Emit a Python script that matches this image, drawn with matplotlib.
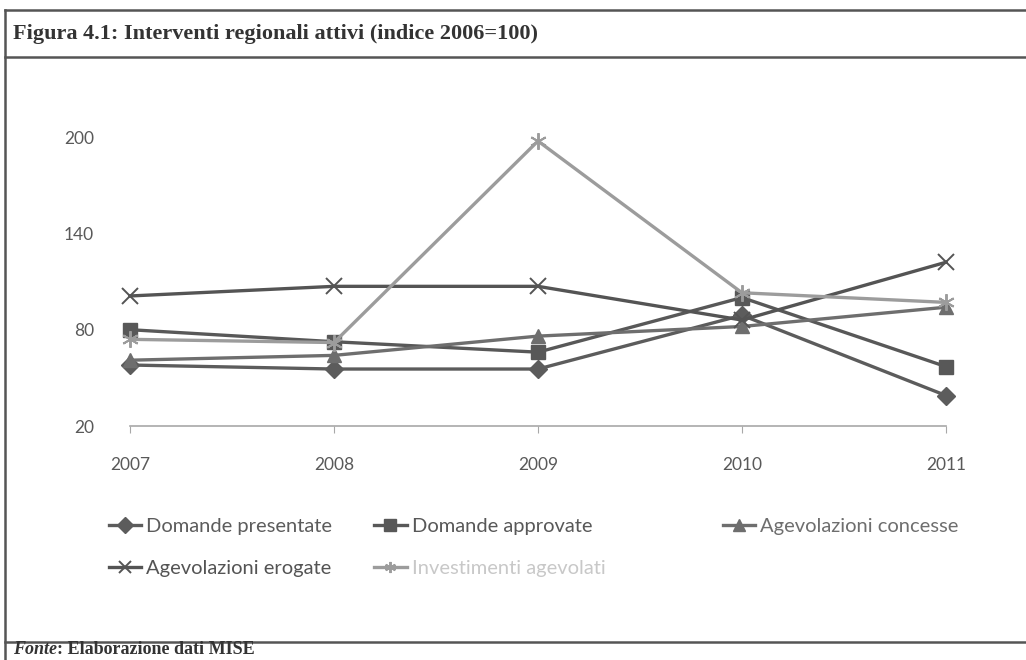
import matplotlib
matplotlib.use('Agg')
import matplotlib.pyplot as plt
from matplotlib.lines import Line2D

# Data (indice 2006=100)
years = ['2007', '2008', '2009', '2010', '2011']
domande_presentate = [58, 55.5, 55.5, 89, 39]
domande_approvate = [80, 72.5, 66, 100, 57]
agevolazioni_concesse = [61, 64, 76, 82, 94]
agevolazioni_erogate = [101, 107, 107, 86, 122]
investimenti_agevolati = [74, 72, 197.5, 103, 97]

series = [
    ('Domande presentate', domande_presentate, 'D', 9, '#5c5c5c', '#5c5c5c'),
    ('Domande approvate', domande_approvate, 's', 10, '#585858', '#585858'),
    ('Agevolazioni concesse', agevolazioni_concesse, '^', 10, '#6e6e6e', '#6e6e6e'),
    ('Agevolazioni erogate', agevolazioni_erogate, 'x', 11, '#545454', '#545454'),
    ('Investimenti agevolati', investimenti_agevolati, (6, 2, 0), 12, '#9c9c9c', '#c8c8c8'),
]

fig = plt.figure(figsize=(10.26, 6.6), dpi=100)
ax = fig.add_axes([0.1267, 0.3545, 0.7953, 0.4379])

x = list(range(len(years)))
lines = []
for name, vals, mk, ms, col, txtcol in series:
    ln, = ax.plot(x, vals, color=col, lw=2.4, marker=mk, markersize=ms,
                  markeredgewidth=1.4 if mk in ('x', (6, 2, 0)) else 1,
                  label=name, clip_on=False)
    lines.append(ln)

ax.set_xlim(0, 4)
ax.set_ylim(20, 200)
ax.set_yticks([20, 80, 140, 200])
ax.set_xticks(x)
ax.set_xticklabels(years)

for side in ['top', 'right', 'left']:
    ax.spines[side].set_visible(False)
ax.spines['bottom'].set_color('#a8a8a8')
ax.spines['bottom'].set_linewidth(1.2)

ax.tick_params(axis='y', length=0, pad=26, labelsize=12.5, labelcolor='#595959')
ax.tick_params(axis='x', length=5, color='#a8a8a8', pad=17, labelsize=12.5,
               labelcolor='#595959')
for lab in ax.get_xticklabels() + ax.get_yticklabels():
    lab.set_family(['Lato', 'DejaVu Sans'])

# Legend in three columns, placed like the original
legend_cols = [(0.098, [0, 3]), (0.357, [1, 4]), (0.697, [2])]
for xpos, idx in legend_cols:
    leg = fig.legend(handles=[lines[i] for i in idx], loc='upper left',
                     bbox_to_anchor=(xpos, 0.228), frameon=False,
                     handlelength=1.6, handletextpad=0.25, labelspacing=1.25,
                     borderaxespad=0, numpoints=1,
                     prop={'family': ['Lato', 'DejaVu Sans'], 'size': 14.5})
    for i, t in zip(idx, leg.get_texts()):
        t.set_color(series[i][5])
    for h in leg.legend_handles:
        h.set_markersize(8)

# Frame of the figure box
frame_kw = dict(color='#555555', lw=1.8, transform=fig.transFigure)
fig.add_artist(Line2D([0.005, 1.0], [0.985, 0.985], **frame_kw))
fig.add_artist(Line2D([0.005, 1.0], [0.913, 0.913], **frame_kw))
fig.add_artist(Line2D([0.005, 1.0], [0.027, 0.027], **frame_kw))
fig.add_artist(Line2D([0.005, 0.005], [0.0, 0.985], **frame_kw))

fig.text(0.013, 0.949, 'Figura 4.1: Interventi regionali attivi (indice 2006=100)',
         family='Liberation Serif', weight='bold', size=16, color='#333333',
         va='center', ha='left')
t1 = fig.text(0.013, 0.003, 'Fonte', family='Liberation Serif', weight='bold',
              style='italic', size=13, color='#333333', va='bottom', ha='left')
fig.canvas.draw()
bb = t1.get_window_extent().transformed(fig.transFigure.inverted())
fig.text(bb.x1, 0.003, ': Elaborazione dati MISE', family='Liberation Serif',
         weight='bold', size=13, color='#333333', va='bottom', ha='left')

fig.savefig('out.png', dpi=100)
